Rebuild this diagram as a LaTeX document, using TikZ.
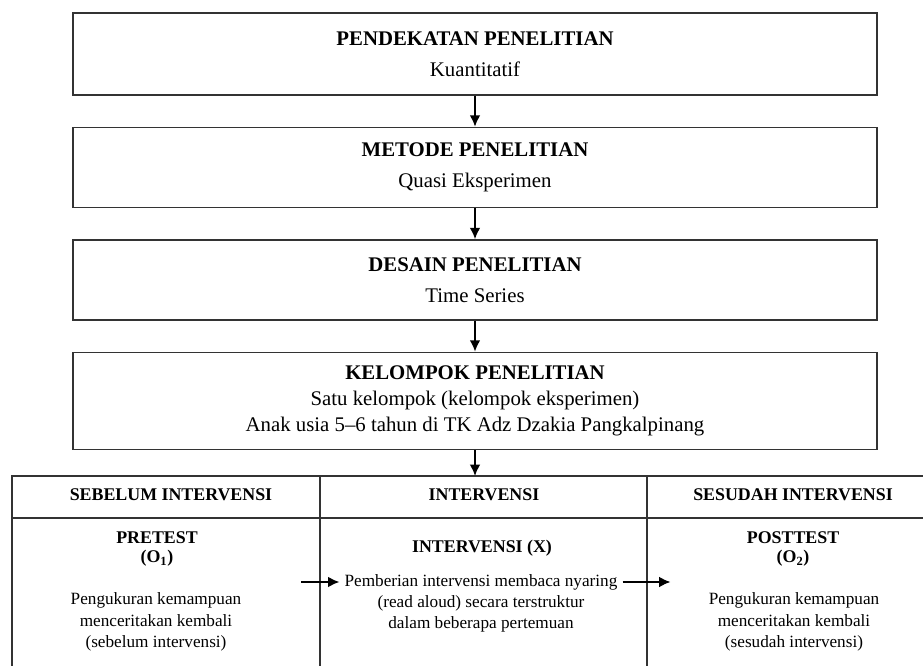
\documentclass[tikz,border=0pt]{standalone}
\usepackage{fontspec}
\setmainfont{Liberation Serif}
\usepackage{tikz}
\usetikzlibrary{positioning,arrows.meta}

\begin{document}
\begin{tikzpicture}%
  [x=0.75pt,y=-0.75pt,node distance=23.25pt,line width=1.1pt]
  \tikzstyle{stage box}=[rectangle,draw=black!80,minimum width=603pt,align=center,
    font=\fontsize{15.6}{19.5}\selectfont]
  \tikzstyle{head text}=[align=center,font=\fontsize{13.4}{14}\selectfont\bfseries]
  \tikzstyle{body text}=[align=center,font=\fontsize{12.9}{16}\selectfont]
  \tikzstyle{flow}=[-{Latex[length=8.5pt,width=8pt]},line width=1.4pt]
  \clip (0,0) rectangle (923,666);
  \node(approach)[stage box,minimum height=61.5pt] at (475,54)
    {\textbf{PENDEKATAN PENELITIAN}\\[4pt]Kuantitatif};
  \node(method)[stage box,minimum height=60pt,below=of approach]
    {\textbf{METODE PENELITIAN}\\[4pt]Quasi Eksperimen};
  \node(design)[stage box,minimum height=60pt,below=of method]
    {\textbf{DESAIN PENELITIAN}\\[4pt]Time Series};
  \node(group)[stage box,minimum height=72.75pt,below=of design]
    {\textbf{KELOMPOK PENELITIAN}\\Satu kelompok (kelompok eksperimen)\\
     Anak usia 5--6 tahun di TK Adz Dzakia Pangkalpinang};
  \draw[draw=black!80] (12,476) rectangle (960,720);
  \draw[draw=black!80] (12,518) -- (960,518) (320,476) -- (320,720) (647,476) -- (647,720);
  \coordinate(table) at (475,476);
  \node(before)[head text] at (171,495){SEBELUM INTERVENSI};
  \node(during)[head text] at (484,495){INTERVENSI};
  \node(after)[head text] at (793,495){SESUDAH INTERVENSI};
  \node(pre)[head text] at (157,549){PRETEST\\(O\textsubscript{1})};
  \node(prebody)[body text] at (156,622)
    {Pengukuran kemampuan\\menceritakan kembali\\(sebelum intervensi)};
  \node(treat)[head text] at (482,548){INTERVENSI (X)};
  \node(give)[body text] at (481,582){Pemberian intervensi membaca nyaring};
  \node(givemore)[body text] at (481,614)
    {(read aloud) secara terstruktur\\dalam beberapa pertemuan};
  \node(post)[head text] at (793,549){POSTTEST\\(O\textsubscript{2})};
  \node(postbody)[body text] at (794,622)
    {Pengukuran kemampuan\\menceritakan kembali\\(sesudah intervensi)};
  \coordinate[left=28.5pt of give](fromtest);
  \coordinate[right=36pt of give](totest);
  \draw[flow] (approach) -- (method);
  \draw[flow] (method) -- (design);
  \draw[flow] (design) -- (group);
  \draw[flow] (group) -- (table);
  \draw[flow] (fromtest) -- (give);
  \draw[flow] (give) -- (totest);
\end{tikzpicture}
\end{document}
